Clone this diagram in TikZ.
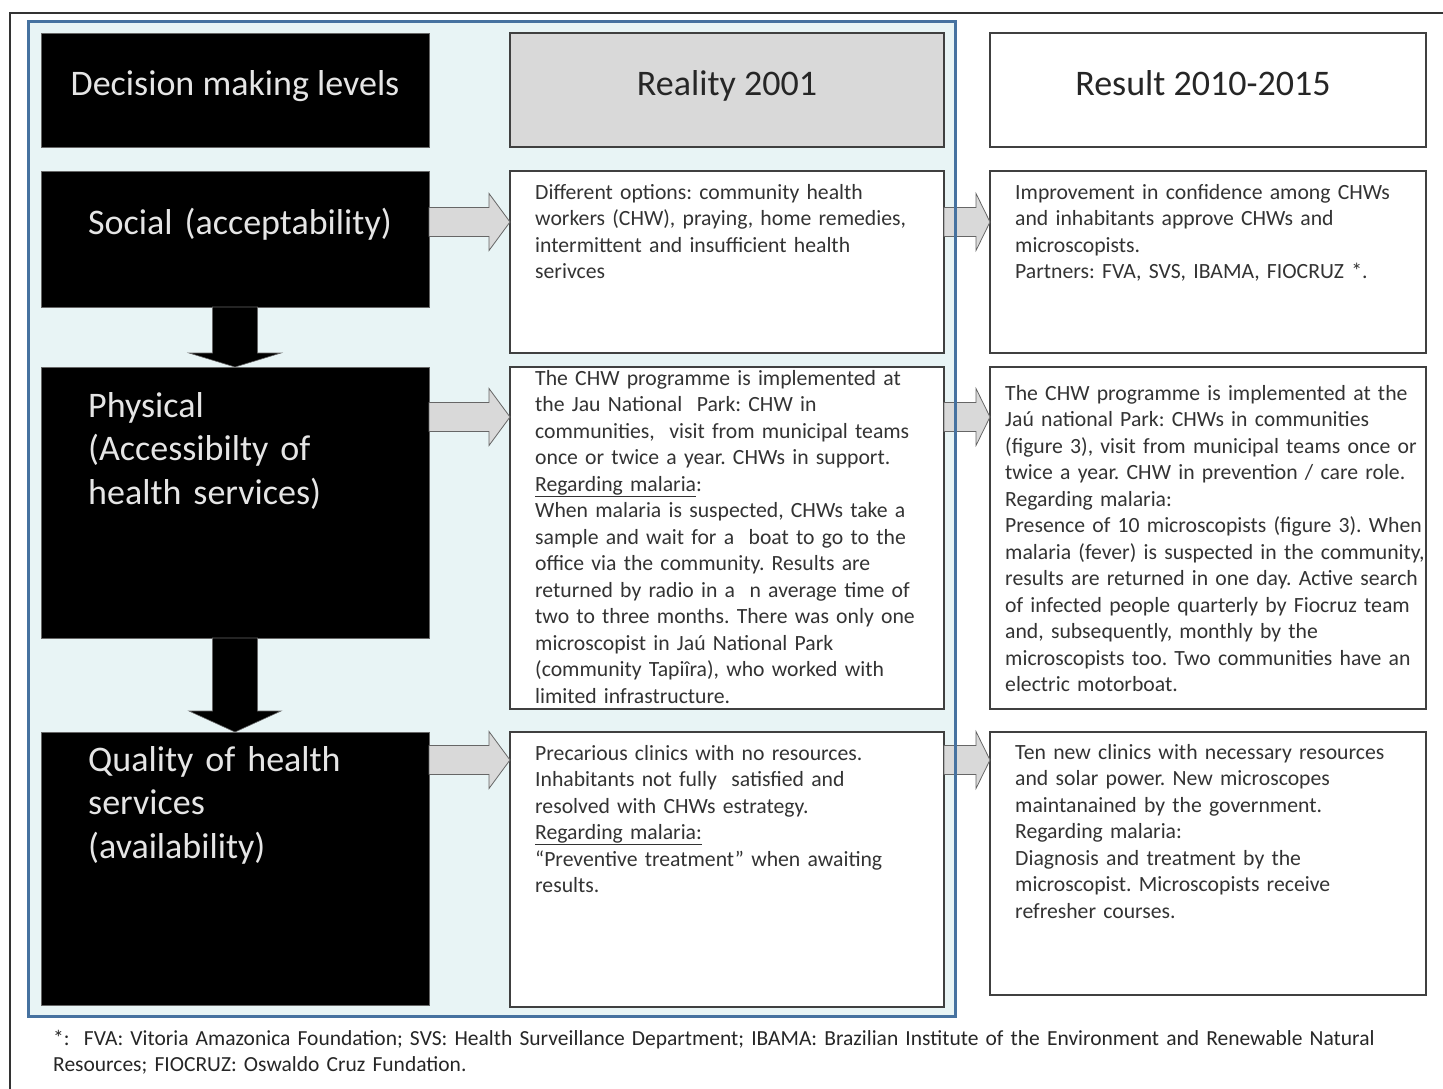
\documentclass[tikz,border=0pt]{standalone}
\usepackage{fontspec}
\setmainfont{Carlito}
\usetikzlibrary{positioning,calc}
\frenchspacing

\definecolor{frameblue}{RGB}{70,114,160}
\definecolor{paleblue}{RGB}{232,244,245}
\definecolor{boxgray}{RGB}{217,217,217}

% grey block arrow from one box to the next, along the axis #3
\newcommand\sidearrow[4]{%
  \draw[sidearrow] let \p1=(#1.east), \p2=(#2.west), \p3=(#3) in
    (\x1,\y3+14.5pt) -- (\x2-#4,\y3+14.5pt) -- (\x2-#4,\y3+28.5pt) -- (\x2,\y3)
    -- (\x2-#4,\y3-28.5pt) -- (\x2-#4,\y3-14.5pt) -- (\x1,\y3-14.5pt) -- cycle;}
% black arrow between two levels
\newcommand\levelarrow[3]{%
  \fill[black, draw=black!60, line width=.6pt] let \p1=(#1.south), \p2=(#2.north) in
    (\x1-22.5pt,\y1) -- (\x1-22.5pt,\y2+#3) -- (\x1-46pt,\y2+#3) -- (\x1,\y2)
    -- (\x1+46pt,\y2+#3) -- (\x1+22.5pt,\y2+#3) -- (\x1+22.5pt,\y1) -- cycle;}

\begin{document}
\begin{tikzpicture}[x=1pt, y=-1pt,
    level/.style={fill=black, draw=black!60, line width=.6pt, inner sep=0pt,
      outer sep=0pt, minimum width=388pt},
    cell/.style={draw=black!75, line width=1.3pt, fill=white, inner sep=0pt,
      outer sep=0pt},
    bigtext/.style={font=\fontsize{36}{43.5}\selectfont, text height=24pt,
      text depth=12pt},
    head/.style={cell, bigtext, text=black!85},
    lvltxt/.style={font=\fontsize{36}{43.5}\selectfont, text=white!90!black,
      text width=370pt, align=left, inner sep=0pt},
    body/.style={font=\fontsize{21.7}{26.5}\selectfont, text=black!80,
      text width=430pt, align=left, inner sep=0pt},
    note/.style={font=\fontsize{21.5}{26}\selectfont, text=black!85,
      text width=1400pt, align=left, inner sep=0pt},
    sidearrow/.style={fill=boxgray, draw=black!60, line width=.8pt}]
  \useasboundingbox (0,0) rectangle (1443,1089);

  % page frame and the shaded block
  \draw[black!80, line width=1.3pt] (10,1089) -- (10,13) -- (1443,13);
  \fill[paleblue] (28,22) rectangle (955.5,1016.5);

  % levels
  \node[level, bigtext, minimum height=114pt, anchor=north west,
    text=white!90!black] (dm) at (41,33) {Decision making levels};
  \node[level, minimum height=136pt, below=24pt of dm] (soc) {};
  \node[level, minimum height=271pt, below=60pt of soc] (phys) {};
  \node[level, minimum height=273pt, below=94pt of phys] (qual) {};

  % 2001 column
  \node[head, fill=boxgray, minimum width=434pt, minimum height=114pt,
    right=81pt of dm] (hr) {Reality 2001};
  \node[cell, minimum width=434pt, minimum height=182pt,
    right=81pt of soc.north east, anchor=north west] (r01) {};
  \node[cell, minimum width=434pt, minimum height=342pt,
    right=81pt of phys.north east, anchor=north west] (r02) {};
  \node[cell, minimum width=434pt, minimum height=275pt,
    right=81pt of qual.north east, anchor=north west] (r03) {};

  % 2010-2015 column
  \node[head, minimum width=436pt, minimum height=114pt,
    right=46pt of hr] (hs) {\hspace*{-10pt}Result 2010-2015};
  \node[cell, minimum width=436pt, minimum height=182pt,
    right=46pt of r01.north east, anchor=north west] (s01) {};
  \node[cell, minimum width=436pt, minimum height=342pt,
    right=46pt of r02.north east, anchor=north west] (s02) {};
  \node[cell, minimum width=436pt, minimum height=263pt,
    right=46pt of r03.north east, anchor=north west] (s03) {};

  % arrows
  \coordinate (ax1) at (0,222);
  \coordinate (ax2) at (0,417);
  \coordinate (ax3) at (0,760);
  \sidearrow{soc}{r01}{ax1}{21pt}
  \sidearrow{phys}{r02}{ax2}{21pt}
  \sidearrow{qual}{r03}{ax3}{21pt}
  \sidearrow{r01}{s01}{ax1}{14pt}
  \sidearrow{r02}{s02}{ax2}{14pt}
  \sidearrow{r03}{s03}{ax3}{14pt}
  \levelarrow{soc}{phys}{14pt}
  \levelarrow{phys}{qual}{21pt}

  % texts
  \node[lvltxt, anchor=base west] (soc-txt) at ([shift={(47,63)}]soc.north west)
    {Social (acceptability)};
  \node[lvltxt, anchor=base west] (phys-txt) at ([shift={(47,50)}]phys.north west)
    {Physical\\(Accessibilty of\\health services)};
  \node[lvltxt, anchor=base west] (qual-txt) at ([shift={(47,39)}]qual.north west)
    {Quality of health\\services\\(availability)};

  \node[body, anchor=base west] (r01-txt) at ([shift={(25,28)}]r01.north west)
    {Different options: community health\\
     workers (CHW), praying, home remedies,\\
     intermittent and insufficient health\\
     serivces};
  \node[body, anchor=base west] (r02-txt) at ([shift={(25,18)}]r02.north west)
    {The CHW programme is implemented at\\
     the Jau National\ \ Park: CHW in\\
     communities,\ \ visit from municipal teams\\
     once or twice a year. CHWs in support.\\
     \underline{Regarding malaria}:\\
     When malaria is suspected, CHWs take a\\
     sample and wait for a\ \ boat to go to the\\
     office via the community. Results are\\
     returned by radio in a\ \ n average time of\\
     two to three months. There was only one\\
     microscopist in Jaú National Park\\
     (community Tapiîra), who worked with\\
     limited infrastructure.};
  \node[body, anchor=base west] (r03-txt) at ([shift={(25,28)}]r03.north west)
    {Precarious clinics with no resources.\\
     Inhabitants not fully\ \ satisfied and\\
     resolved with CHWs estrategy.\\
     \underline{Regarding malaria:}\\
     “Preventive treatment” when awaiting\\
     results.};

  \node[body, anchor=base west] (s01-txt) at ([shift={(25,28)}]s01.north west)
    {Improvement in confidence among CHWs\\
     and inhabitants approve CHWs and\\
     microscopists.\\
     Partners: FVA, SVS, IBAMA, FIOCRUZ *.};
  \node[body, anchor=base west] (s02-txt) at ([shift={(15,33)}]s02.north west)
    {The CHW programme is implemented at the\\
     Jaú national Park: CHWs in communities\\
     (figure 3), visit from municipal teams once or\\
     twice a year. CHW in prevention / care role.\\
     Regarding malaria:\\
     Presence of 10 microscopists (figure 3). When\\
     malaria (fever) is suspected in the community,\\
     results are returned in one day. Active search\\
     of infected people quarterly by Fiocruz team\\
     and, subsequently, monthly by the\\
     microscopists too. Two communities have an\\
     electric motorboat.};
  \node[body, anchor=base west] (s03-txt) at ([shift={(25,27)}]s03.north west)
    {Ten new clinics with necessary resources\\
     and solar power. New microscopes\\
     maintanained by the government.\\
     Regarding malaria:\\
     Diagnosis and treatment by the\\
     microscopist. Microscopists receive\\
     refresher courses.};

  \node[note, anchor=base west] (fn) at (53,1045)
    {*:\ \ FVA: Vitoria Amazonica Foundation; SVS: Health Surveillance Department; IBAMA: Brazilian Institute of the Environment and Renewable Natural\\
     Resources; FIOCRUZ: Oswaldo Cruz Fundation.};

  % blue border over everything
  \draw[frameblue, line width=3pt] (28,22) rectangle (955.5,1016.5);
\end{tikzpicture}
\end{document}
